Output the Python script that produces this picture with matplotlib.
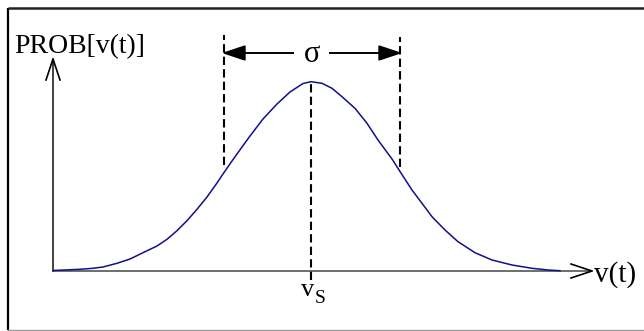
import matplotlib
matplotlib.use("Agg")
import matplotlib.pyplot as plt
from matplotlib.patches import Polygon

v_vals = [0, 27, 40, 50, 64, 77, 90, 104, 114, 124, 134, 144, 154, 164, 170, 179, 189, 197,
          210, 224, 237, 250, 258, 269, 279, 289, 302, 314, 325, 339, 347, 359, 369, 379,
          392, 405, 422, 439, 459, 479, 495, 507]
prob_vals = [0.5, 1.7, 2.7, 4, 7.7, 12, 18.3, 25, 31.7, 40.3, 50.3, 61.7, 74, 88, 97,
             110, 124, 135, 152, 167, 179, 187.5, 189.3, 187.7, 182.7, 174.3, 162.7,
             147.7, 131, 112, 99.5, 81, 67.7, 54.3, 41, 29.3, 18.3, 11, 6, 2.7, 1, 0.3]

v_s = 258            # centre of the distribution
sigma_lo = 171       # left edge of sigma band
sigma_hi = 347       # right edge of sigma band

y_label = "PROB[v(t)]"
x_label = "v(t)"
sigma_label = "σ"

serif = ["Liberation Serif", "DejaVu Serif"]

fig = plt.figure(figsize=(6.44, 3.31), dpi=100)
ax = fig.add_axes([0, 0, 1, 1])
ax.set_xlim(-53, 591)
ax.set_ylim(-60, 271)
ax.axis("off")

# frame (only left, top, bottom visible)
ax.plot([-45, -45], [-59, 263], color="black", lw=1.6, solid_capstyle="butt")
ax.plot([-45, 591], [263, 263], color="#222222", lw=1.8, solid_capstyle="butt")
ax.plot([-45, 591], [-59, -59], color="#999999", lw=1.0)

# axes with open arrow heads
ax.plot([0, 0], [0, 212], color="#222222", lw=1.2)
ax.plot([-7, 0, 7], [191, 212, 191], color="black", lw=1.2)
ax.plot([0, 539], [0, 0], color="#555555", lw=1.2)
ax.plot([518, 539, 518], [7, 0, -7], color="black", lw=1.2)

# the distribution
ax.plot(v_vals, prob_vals, color="#10108a", lw=1.1)

# dashed markers
dash = dict(color="black", lw=1.5, dashes=(4, 2))
ax.plot([sigma_lo, sigma_lo], [106, 236], **dash)
ax.plot([sigma_hi, sigma_hi], [104, 234], **dash)
ax.plot([v_s, v_s], [-9, 189], **dash)

# sigma width arrows
ay = 218
ax.plot([sigma_lo + 18, 240], [ay, ay], color="black", lw=1.4)
ax.add_patch(Polygon([[sigma_lo, ay], [sigma_lo + 21, ay + 7], [sigma_lo + 21, ay - 7]],
                     closed=True, color="black"))
ax.plot([277, sigma_hi - 18], [ay, ay], color="black", lw=1.4)
ax.add_patch(Polygon([[sigma_hi, ay], [sigma_hi - 21, ay + 7], [sigma_hi - 21, ay - 7]],
                     closed=True, color="black"))
ax.text(v_s + 1, ay - 1, sigma_label, ha="center", va="center", fontsize=22, family=serif)

# labels
ax.text(-39, 217.5, y_label, ha="left", va="baseline", fontsize=20, family=serif)
ax.text(541, -11, x_label, ha="left", va="baseline", fontsize=21, family=serif)
ax.text(248.5, -25.5, "v", ha="left", va="baseline", fontsize=19, family=serif)
ax.text(262, -32, "S", ha="left", va="baseline", fontsize=14, family=serif)

fig.savefig("out.png", dpi=100)
